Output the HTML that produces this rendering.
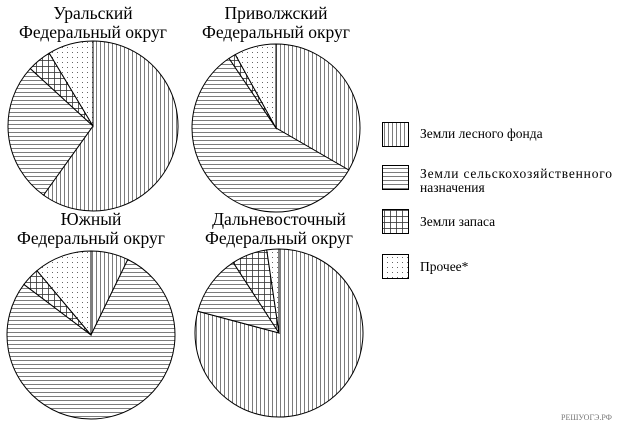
<!DOCTYPE html>
<html><head><meta charset="utf-8"><style>
body{margin:0;background:#fff;width:617px;height:425px;overflow:hidden}
text{font-family:"Liberation Serif","DejaVu Serif",serif;fill:#000}
</style></head><body>
<svg id="s" width="617" height="425" xmlns="http://www.w3.org/2000/svg">
<defs>
<pattern id="v" width="4" height="4" patternUnits="userSpaceOnUse"><rect width="4" height="4" fill="#fff"/><line x1="0.5" y1="0" x2="0.5" y2="4" stroke="#444" stroke-width="0.7"/></pattern>
<pattern id="h" width="4" height="4" patternUnits="userSpaceOnUse"><rect width="4" height="4" fill="#fff"/><line x1="0" y1="0.5" x2="4" y2="0.5" stroke="#444" stroke-width="0.7"/></pattern>
<pattern id="c" width="6" height="6" patternUnits="userSpaceOnUse"><rect width="6" height="6" fill="#fff"/><line x1="0.5" y1="0" x2="0.5" y2="6" stroke="#333" stroke-width="0.8"/><line x1="0" y1="0.5" x2="6" y2="0.5" stroke="#333" stroke-width="0.8"/></pattern>
<pattern id="d" width="5" height="5" patternUnits="userSpaceOnUse"><rect width="5" height="5" fill="#fff"/><rect x="2" y="2" width="1" height="1" fill="#666"/></pattern>
</defs>
<g font-size="17.5" text-anchor="middle">
<text x="93" y="19">Уральский</text><text x="93" y="38">Федеральный округ</text>
<text x="276" y="19">Приволжский</text><text x="276" y="38">Федеральный округ</text>
<text x="91" y="225">Южный</text><text x="91" y="244">Федеральный округ</text>
<text x="279" y="225">Дальневосточный</text><text x="279" y="244">Федеральный округ</text>
</g>
<g id="pies"></g>
<g stroke="#000" stroke-width="1">
<rect x="382.5" y="122.5" width="26" height="24" fill="url(#v)"/>
<rect x="382.5" y="165.5" width="26" height="24" fill="url(#h)"/>
<rect x="382.5" y="209.5" width="26" height="24" fill="url(#c)"/>
<rect x="382.5" y="254.5" width="26" height="24" fill="url(#d)"/>
</g>
<g font-size="13.5">
<text x="420" y="138">Земли лесного фонда</text>
<text x="420" y="178" textLength="192" lengthAdjust="spacing">Земли сельскохозяйственного</text>
<text x="420" y="192">назначения</text>
<text x="420" y="226">Земли запаса</text>
<text x="420" y="271">Прочее*</text>
</g>
<text x="612" y="420" font-size="8" text-anchor="end" style="fill:#777">РЕШУОГЭ.РФ</text>
</svg>
<script>
var pies=[[93,126,85,[0,215.6,312.5,329,360]],[276,128,84,[0,120,326,331,360]],[91,335,84,[0,26,307,320,360]],[279,333,84,[0,285,327,351.6,360]]];
var f=['v','h','c','d'],out='';
function pt(cx,cy,r,a){a=a*Math.PI/180;return (cx+r*Math.sin(a)).toFixed(2)+','+(cy-r*Math.cos(a)).toFixed(2);}
pies.forEach(function(p){var cx=p[0],cy=p[1],r=p[2],a=p[3];
for(var i=0;i<4;i++){var a0=a[i],a1=a[i+1];var large=(a1-a0)>180?1:0;
out+='<path d="M'+cx+','+cy+' L'+pt(cx,cy,r,a0)+' A'+r+','+r+' 0 '+large+' 1 '+pt(cx,cy,r,a1)+' Z" fill="url(#'+f[i]+')" stroke="#000" stroke-width="1"/>';}
});
document.getElementById('pies').innerHTML=out;
</script>
</body></html>
